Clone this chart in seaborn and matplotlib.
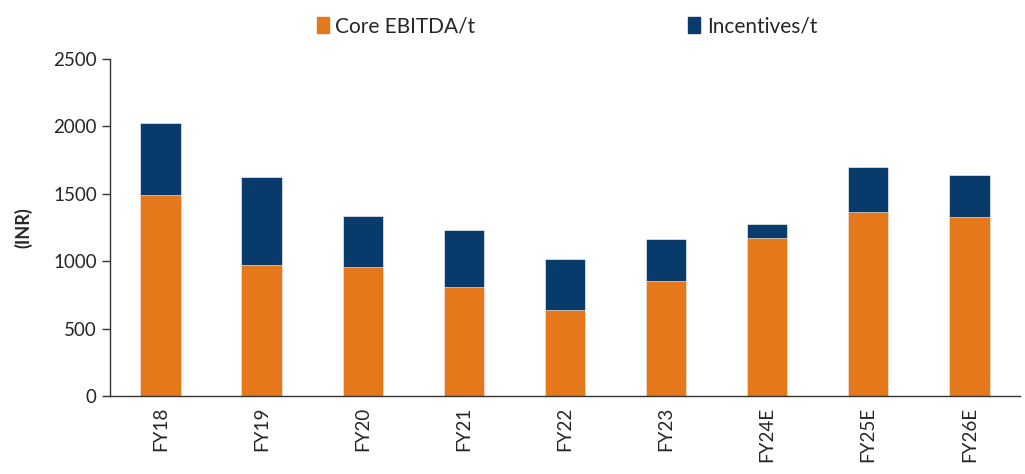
import numpy as np
import pandas as pd
import matplotlib.pyplot as plt
import seaborn as sns
from matplotlib.patches import Patch

# Dados
anos = ['FY18', 'FY19', 'FY20', 'FY21', 'FY22', 'FY23', 'FY24E', 'FY25E', 'FY26E']
core_ebitda = [1491, 972, 957, 809, 636, 853, 1175, 1368, 1331]
incentivos = [534, 651, 381, 426, 381, 315, 101, 331, 312]

cor_core = '#E5781A'
cor_inc = '#083A6B'

df = pd.DataFrame({'Ano': anos, 'Core': core_ebitda, 'Incentivos': incentivos})
df['Total'] = df['Core'] + df['Incentivos']

sns.set_style('white')
plt.rcParams['font.family'] = ['Lato', 'DejaVu Sans']

fig = plt.figure(figsize=(10.25, 4.74), dpi=100)
ax = fig.add_axes([0.1073, 0.1646, 0.8877, 0.7109])

# Barras empilhadas: total (azul) por baixo, core (laranja) por cima
sns.barplot(data=df, x='Ano', y='Total', color=cor_inc, width=0.4,
            saturation=1, edgecolor='white', linewidth=0.4, ax=ax)
sns.barplot(data=df, x='Ano', y='Core', color=cor_core, width=0.4,
            saturation=1, edgecolor='white', linewidth=0.4, ax=ax)

ax.set_xlim(-0.5, len(anos) - 0.5)
ax.set_ylim(0, 2500)
ax.set_yticks([0, 500, 1000, 1500, 2000, 2500])
ax.set_xlabel('')
ax.set_ylabel('(INR)', fontsize=13, fontweight='bold', labelpad=15)

# Ticks do eixo x nas fronteiras das categorias
ax.set_xticks(np.arange(-0.5, len(anos)), minor=True)
ax.tick_params(axis='x', which='major', length=0, labelsize=13.5, labelrotation=90, pad=8)
ax.tick_params(axis='x', which='minor', length=6, width=1, direction='out', color='#333333')
ax.tick_params(axis='y', which='major', length=6, width=1, direction='out', labelsize=13.5,
               color='#333333', left=True)

for s in ['top', 'right']:
    ax.spines[s].set_visible(False)
for s in ['left', 'bottom']:
    ax.spines[s].set_color('#333333')
    ax.spines[s].set_linewidth(1)

handles = [Patch(color=cor_core, label='Core EBITDA/t'),
           Patch(color=cor_inc, label='Incentives/t')]
fig.legend(handles=handles, loc='upper center', bbox_to_anchor=(0.553, 1.005), ncol=2,
           frameon=False, fontsize=15, handlelength=0.6, handleheight=0.8,
           handletextpad=0.3, columnspacing=10.2)

plt.savefig('out.png', dpi=100)
